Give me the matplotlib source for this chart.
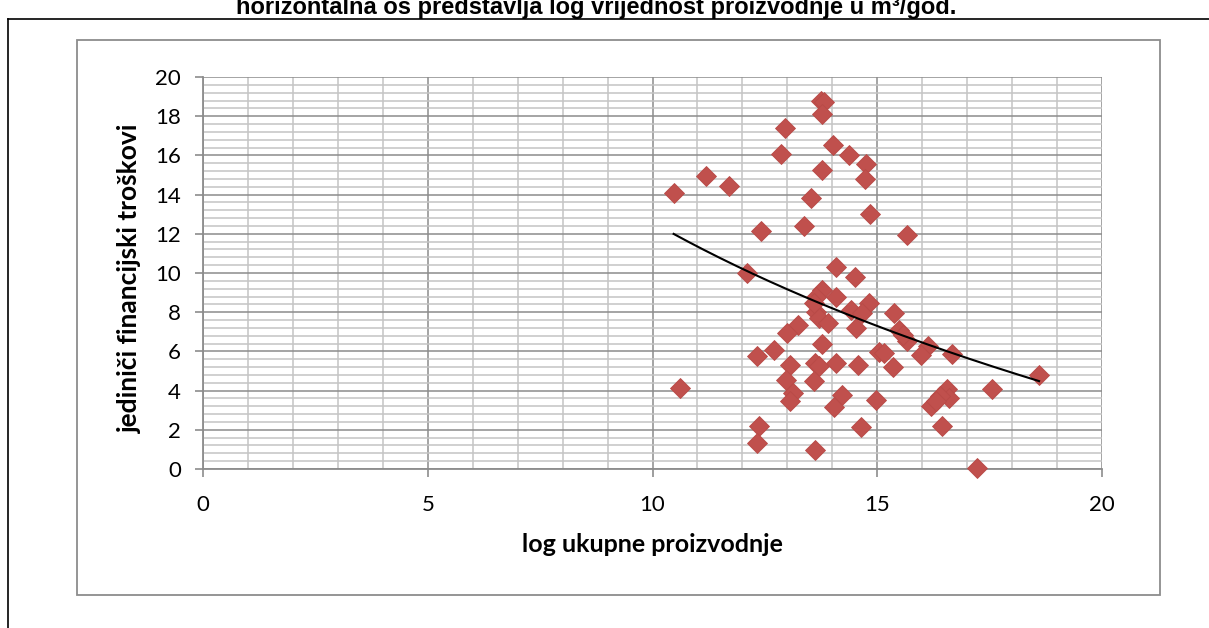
import numpy as np
import matplotlib.pyplot as plt
from matplotlib.lines import Line2D
from matplotlib.patches import Rectangle
from matplotlib.ticker import MultipleLocator

# log of total production vs unit financial cost
log_prod = [10.47, 11.19, 11.70, 12.41, 12.11, 12.95, 12.86, 13.74, 13.82, 13.78,
            14.01, 14.38, 14.75, 14.73, 13.78, 13.53, 13.38, 14.84, 15.67, 14.08,
            14.50, 13.78, 13.64, 14.08, 14.82, 14.41, 14.67, 15.38, 13.64, 13.71,
            13.90, 14.53, 15.49, 15.67, 13.23, 12.99, 13.78, 12.71, 12.33, 15.04,
            15.16, 13.07, 13.62, 13.70, 14.08, 14.58, 15.36, 12.97, 13.60, 10.62,
            13.12, 13.07, 14.21, 14.04, 14.97, 14.64, 12.36, 12.33, 13.62, 15.58,
            16.12, 15.97, 16.67, 18.60, 17.56, 16.55, 16.60, 16.40, 16.19, 16.44,
            17.23, 16.30, 13.60]
unit_cost = [14.10, 14.96, 14.44, 12.14, 10.00, 17.42, 16.07, 18.80, 18.70, 18.10,
             16.53, 16.02, 15.58, 14.80, 15.26, 13.81, 12.41, 13.01, 11.94, 10.30,
             9.78, 9.13, 8.79, 8.79, 8.45, 8.11, 7.94, 7.94, 8.03, 7.69,
             7.43, 7.18, 7.09, 6.55, 7.35, 6.92, 6.38, 6.07, 5.77, 5.99,
             5.90, 5.31, 5.42, 5.25, 5.39, 5.31, 5.22, 4.54, 4.51, 4.12,
             3.86, 3.49, 3.78, 3.15, 3.52, 2.13, 2.19, 1.31, 0.97, 6.84,
             6.30, 5.82, 5.87, 4.80, 4.06, 4.10, 3.60, 3.70, 3.20, 2.21,
             0.04, 3.45, 8.45]

# logarithmic trend: y = a + b*ln(x)
trend_a = 42.69
trend_b = -13.07

plt.rcParams['font.family'] = ['Lato', 'DejaVu Sans']

fig = plt.figure(figsize=(12.09, 6.28), dpi=100)
W, H = 1209, 628

def fx(px):
    return px / W

def fy(py):
    return 1 - py / H

# outer frame (top and left edges visible)
fig.add_artist(Line2D([fx(8), fx(1215)], [fy(19), fy(19)], color='black', lw=1.2))
fig.add_artist(Line2D([fx(8), fx(8)], [fy(19), fy(640)], color='black', lw=1.2))

# chart area frame
fig.add_artist(Rectangle((fx(77), fy(595)), fx(1160) - fx(77), fy(40) - fy(595),
                         fill=False, edgecolor='#8c8c8c', lw=1.3))

fig.text(fx(596), fy(14), 'horizontalna os predstavlja log vrijednost proizvodnje u m³/god.',
         family='Liberation Sans', weight='bold', fontsize=17, ha='center', va='baseline')

ax = fig.add_axes([fx(203), fy(469), fx(1102) - fx(203), fy(77) - fy(469)])
ax.set_xlim(0, 20)
ax.set_ylim(0, 20)

ax.xaxis.set_major_locator(MultipleLocator(5))
ax.xaxis.set_minor_locator(MultipleLocator(1))
ax.yaxis.set_major_locator(MultipleLocator(2))
ax.yaxis.set_minor_locator(MultipleLocator(0.4))

ax.grid(which='minor', color='#c4c4c4', lw=1.1)
ax.grid(which='major', color='#8c8c8c', lw=1.1)
ax.set_axisbelow(True)

for side in ['top', 'right']:
    ax.spines[side].set_visible(False)
for side in ['left', 'bottom']:
    ax.spines[side].set_color('#8c8c8c')
    ax.spines[side].set_linewidth(1.3)

ax.tick_params(which='major', direction='out', length=6, width=1.2, color='#8c8c8c',
               labelsize=16)
ax.tick_params(which='minor', length=0)
ax.tick_params(axis='y', pad=10)
ax.tick_params(axis='x', pad=13)

ax.plot(log_prod, unit_cost, linestyle='none', marker='D', markersize=9.8,
        markerfacecolor='#c0504d', markeredgecolor='#b84a47', markeredgewidth=0.6,
        clip_on=False, zorder=3)

xs = np.linspace(min(log_prod), max(log_prod), 200)
ax.plot(xs, trend_a + trend_b * np.log(xs), color='black', lw=1.5, zorder=4)

fig.text(fx(652), fy(545), 'log ukupne proizvodnje', weight='bold', fontsize=18,
         ha='center', va='center')
fig.text(fx(130), fy(278), 'jediniči financijski troškovi', weight='bold', fontsize=19,
         ha='center', va='center', rotation=90)

fig.savefig('out.png', dpi=100)
